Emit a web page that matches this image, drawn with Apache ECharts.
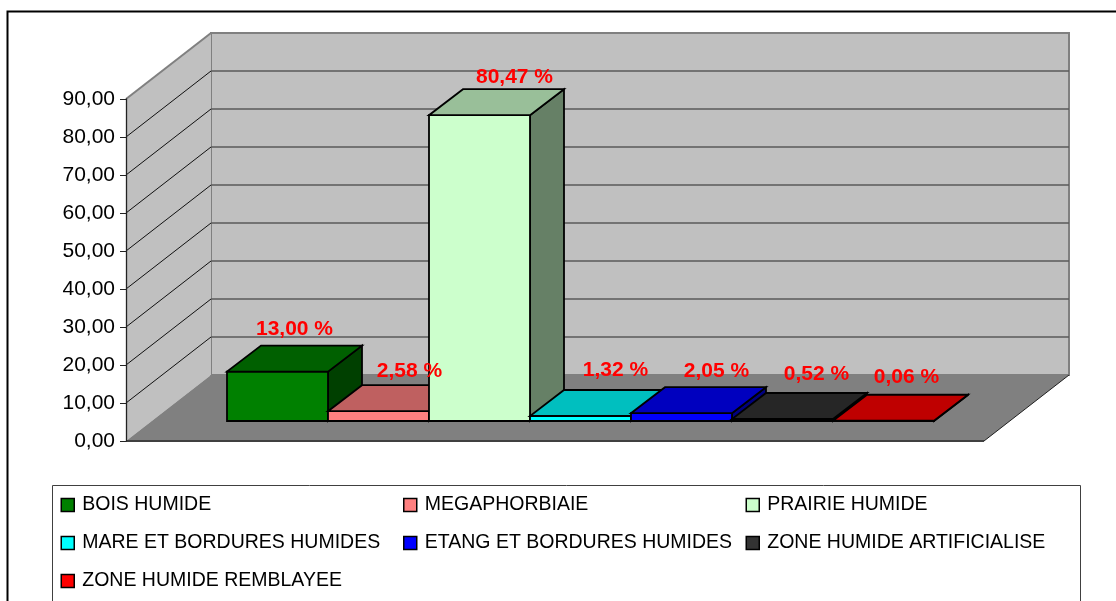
<!DOCTYPE html>
<html lang="fr">
<head>
    <meta charset="UTF-8">
    <title>Zones humides</title>
    <script src="https://cdn.jsdelivr.net/npm/echarts@6/dist/echarts.min.js"></script>
    <style>
        html, body { margin: 0; padding: 0; background: #fff; overflow: hidden; }
    </style>
</head>
<body>
<div id="main" style="width: 1116px;height:601px;"></div>
<script type="text/javascript">
    // donnees
    var categories = ['BOIS HUMIDE', 'MEGAPHORBIAIE', 'PRAIRIE HUMIDE', 'MARE ET BORDURES HUMIDES',
        'ETANG ET BORDURES HUMIDES', 'ZONE HUMIDE ARTIFICIALISE', 'ZONE HUMIDE REMBLAYEE'];
    var values = [13.00, 2.58, 80.47, 1.32, 2.05, 0.52, 0.06];
    var yTicks = [0, 10, 20, 30, 40, 50, 60, 70, 80, 90];

    // couleurs : face avant, dessus, cote
    var frontColors = ['#008000', '#FF8080', '#CCFFCC', '#00FFFF', '#0000FF', '#333333', '#FF0000'];
    var topColors = ['#006000', '#BF6060', '#99BF99', '#00BFBF', '#0000BF', '#262626', '#BF0000'];
    var sideColors = ['#004000', '#804040', '#668066', '#008080', '#000080', '#1A1A1A', '#800000'];

    // mise en page : profondeur 3D et decalage des etiquettes
    var wallDx = 85, wallDy = -66;
    var barDx = 34, barDy = -26;
    var labelShiftX = [0, 14, 18, 18, 18, 17, 6];
    var labelShiftY = [-16, -14, -12, -20, -16, -19, -18];

    function fmt(v) {
        return v.toFixed(2).replace('.', ',');
    }

    function poly(points, fill, stroke, width) {
        return {
            type: 'polygon',
            shape: { points: points },
            style: { fill: fill, stroke: stroke, lineWidth: width || 0, lineJoin: 'miter' }
        };
    }

    function line(p1, p2, color, width) {
        return {
            type: 'line',
            shape: { x1: p1[0], y1: p1[1], x2: p2[0], y2: p2[1] },
            style: { stroke: color, lineWidth: width }
        };
    }

    function back(p) {
        return [p[0] + wallDx, p[1] + wallDy];
    }

    // murs et sol
    function renderWalls(params, api) {
        var a = api.coord([0, 0]);
        var b = api.coord([1, 0]);
        var c = api.coord([1, 90]);
        var d = api.coord([0, 90]);
        var floor = poly([a, b, back(b), back(a)], '#808080', 'none');
        var side = poly([a, back(a), back(d), d], '#C0C0C0', 'none');
        var wall = poly([back(a), back(b), back(c), back(d)], '#C0C0C0', '#808080', 2);
        return {
            type: 'group',
            children: [wall, side, floor,
                line(d, back(d), '#808080', 2),
                line(a, b, '#404040', 2),
                line(b, back(b), '#202020', 1)]
        };
    }

    // lignes de graduation sur le mur gauche et le mur du fond
    function renderGridLine(params, api) {
        var p = api.coord([0, api.value(0)]);
        var q = api.coord([1, api.value(0)]);
        return {
            type: 'group',
            children: [line(p, back(p), '#111', 1), line(back(p), back(q), '#5A5A5A', 1.3)]
        };
    }

    function renderBar(params, api) {
        var i = api.value(0);
        var w = api.size([1, 0])[0];
        var base = api.coord([i, 0]);
        var top = api.coord([i, api.value(1)]);
        var x0 = base[0] - w / 2, x1 = base[0] + w / 2;
        var color = params.seriesIndex - 2;
        var front = poly([[x0, base[1]], [x1, base[1]], [x1, top[1]], [x0, top[1]]], frontColors[color], '#000', 1.8);
        var side = poly([[x1, base[1]], [x1 + barDx, base[1] + barDy], [x1 + barDx, top[1] + barDy], [x1, top[1]]], sideColors[color], '#000', 1.8);
        var upper = poly([[x0, top[1]], [x1, top[1]], [x1 + barDx, top[1] + barDy], [x0 + barDx, top[1] + barDy]], topColors[color], '#000', 1.8);
        return { type: 'group', children: [side, front, upper] };
    }

    function renderLabel(params, api) {
        var i = api.value(0);
        var v = api.value(1);
        var p = api.coord([i, v]);
        return {
            type: 'text',
            style: {
                x: p[0] + barDx / 2 + labelShiftX[i],
                y: p[1] + barDy + labelShiftY[i],
                text: fmt(v) + ' %',
                fill: '#FF0000',
                font: 'bold 21px "Liberation Sans", Arial, sans-serif',
                align: 'center',
                verticalAlign: 'middle'
            }
        };
    }

    var series = [
        { type: 'custom', name: 'murs', xAxisIndex: 0, yAxisIndex: 0, z: 1, silent: true, data: [[0]], renderItem: renderWalls },
        { type: 'custom', name: 'grille', xAxisIndex: 0, yAxisIndex: 0, z: 2, silent: true,
            data: yTicks.slice(1, -1).map(function (t) { return [t]; }), encode: { y: 0 }, renderItem: renderGridLine }
    ];
    categories.forEach(function (name, i) {
        series.push({
            type: 'custom',
            name: name,
            xAxisIndex: 1,
            yAxisIndex: 1,
            z: 6,
            silent: true,
            itemStyle: { color: frontColors[i] },
            data: [[i, values[i]]],
            encode: { x: 0, y: 1 },
            renderItem: renderBar
        });
    });
    series.push({
        type: 'custom', name: 'etiquettes', xAxisIndex: 1, yAxisIndex: 1, z: 8, silent: true,
        data: values.map(function (v, i) { return [i, v]; }), encode: { x: 0, y: 1 }, renderItem: renderLabel
    });

    function legendColumn(left, names) {
        return {
            orient: 'vertical',
            left: left,
            top: 493,
            padding: 0,
            itemWidth: 13,
            itemHeight: 13,
            itemGap: 14,
            icon: 'rect',
            selectedMode: false,
            itemStyle: { borderColor: '#000', borderWidth: 1.5 },
            textStyle: { fontFamily: '"Liberation Sans", Arial, sans-serif', fontSize: 19.5, color: '#000', padding: [0, 0, 3, 3], lineHeight: 21 },
            data: names
        };
    }

    var myChart = echarts.init(document.getElementById('main'), null, { renderer: 'canvas' });
    var option = {
        animation: false,
        backgroundColor: '#fff',
        graphic: [
            { type: 'rect', silent: true, z: -1, shape: { x: 7.5, y: 11.5, width: 1300, height: 800 }, style: { fill: '#fff', stroke: '#000', lineWidth: 2 } },
            { type: 'rect', silent: true, z: 0, shape: { x: 52.5, y: 485.5, width: 1028, height: 300 }, style: { fill: '#fff', stroke: '#404040', lineWidth: 1 } }
        ],
        legend: [
            legendColumn(60.5, [categories[0], categories[3], categories[6]]),
            legendColumn(403, [categories[1], categories[4]]),
            legendColumn(745.5, [categories[2], categories[5]])
        ],
        grid: [
            { left: 126, top: 99, width: 858, height: 342 },
            { left: 227, top: 79, width: 707, height: 342 }
        ],
        xAxis: [
            { type: 'value', gridIndex: 0, min: 0, max: 1, show: false },
            { type: 'category', gridIndex: 1, data: categories, show: false }
        ],
        yAxis: [
            {
                type: 'value', gridIndex: 0, min: 0, max: 90, interval: 10, z: 5,
                axisLine: { show: true, lineStyle: { color: '#222', width: 1.3 } },
                axisTick: { show: true, length: 6, lineStyle: { color: '#222', width: 1 } },
                splitLine: { show: false },
                axisLabel: {
                    margin: 11,
                    color: '#000',
                    fontFamily: '"Liberation Sans", Arial, sans-serif',
                    fontSize: 21,
                    formatter: function (v) { return fmt(v); }
                }
            },
            { type: 'value', gridIndex: 1, min: 0, max: 90, interval: 10, show: false }
        ],
        series: series
    };
    myChart.setOption(option);
</script>
</body>
</html>
